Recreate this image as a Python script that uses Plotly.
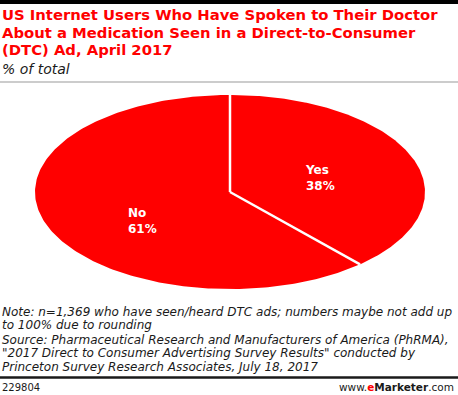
import numpy as np
import plotly.graph_objects as go

labels = ["Yes", "No"]
values = [38, 61]
title_lines = [
    "US Internet Users Who Have Spoken to Their Doctor",
    "About a Medication Seen in a Direct-to-Consumer",
    "(DTC) Ad, April 2017",
]
subtitle = "% of total"
note_lines = [
    "Note: n=1,369 who have seen/heard DTC ads; numbers maybe not add up",
    "to 100% due to rounding",
    "Source: Pharmaceutical Research and Manufacturers of America (PhRMA),",
    "\"2017 Direct to Consumer Advertising Survey Results\" conducted by",
    "Princeton Survey Research Associates, July 18, 2017",
]
chart_id = "229804"

W, H = 458, 395
CX, CY, RA, RB = 230, 192, 195, 97
RED = "#ff0000"
DV = "DejaVu Sans, Verdana, sans-serif"

fig = go.Figure()

total = sum(values)
cum = np.cumsum([0] + values) / total
for i, lab in enumerate(labels):
    t = np.linspace(cum[i], cum[i + 1], 240) * 2 * np.pi
    xs = np.concatenate([[CX], CX + RA * np.sin(t), [CX]])
    ys = np.concatenate([[CY], CY - RB * np.cos(t), [CY]])
    fig.add_trace(go.Scatter(x=xs, y=ys, fill="toself", fillcolor=RED, mode="lines",
                             line=dict(width=0, color=RED), hoverinfo="skip", showlegend=False))

for i in range(len(labels)):
    t = cum[i] * 2 * np.pi
    fig.add_trace(go.Scatter(x=[CX, CX + RA * np.sin(t)], y=[CY, CY - RB * np.cos(t)],
                             mode="lines", line=dict(width=2.5, color="white"),
                             hoverinfo="skip", showlegend=False))

label_pos = {"Yes": (320, 178), "No": (142, 221)}
for lab, v in zip(labels, values):
    x, y = label_pos[lab]
    fig.add_annotation(x=x, y=y, xref="x", yref="y", text=f"<b>{lab}<br>{v}%</b>",
                       showarrow=False, align="left", xanchor="center", yanchor="middle",
                       font=dict(family=DV, size=12, color="white"))


def line(text, x, baseline, size, color="#1a1a1a", anchor="left"):
    fig.add_annotation(xref="x", yref="y", x=x, y=baseline - 0.36 * size, text=text,
                       xanchor=anchor, yanchor="middle", showarrow=False, borderpad=0,
                       font=dict(family=DV, size=size, color=color))


for i, l in enumerate(title_lines):
    line(f"<b>{l}</b>", 1, 20 + 17.5 * i, 14.8, RED)
line(f"<i>{subtitle}</i>", 1, 74, 14)
for l, b in zip(note_lines, [316, 329, 344, 357, 371]):
    line(f"<i>{l}</i>", 1, b, 12)
line(chart_id, 1, 391, 10)
line("www.<b><span style='color:#ff0000'>e</span>Marketer</b>.com", 455, 391, 10.5, anchor="right")

shapes = [
    dict(type="rect", x0=0, x1=W, y0=0, y1=4, fillcolor="#000", line=dict(width=0)),
    dict(type="line", x0=0, x1=W, y0=82, y1=82, line=dict(color="#999999", width=1)),
    dict(type="line", x0=0, x1=W, y0=377.5, y1=377.5, line=dict(color="#1a1a1a", width=2.5)),
]

fig.update_layout(
    width=W, height=H, margin=dict(l=0, r=0, t=0, b=0),
    paper_bgcolor="white", plot_bgcolor="white",
    xaxis=dict(range=[0, W], visible=False, fixedrange=True),
    yaxis=dict(range=[H, 0], visible=False, fixedrange=True),
    shapes=shapes, showlegend=False,
)
fig.write_html("out.html", config={"displayModeBar": False},
               post_script="document.body.style.margin='0';document.body.style.overflow='hidden';")
